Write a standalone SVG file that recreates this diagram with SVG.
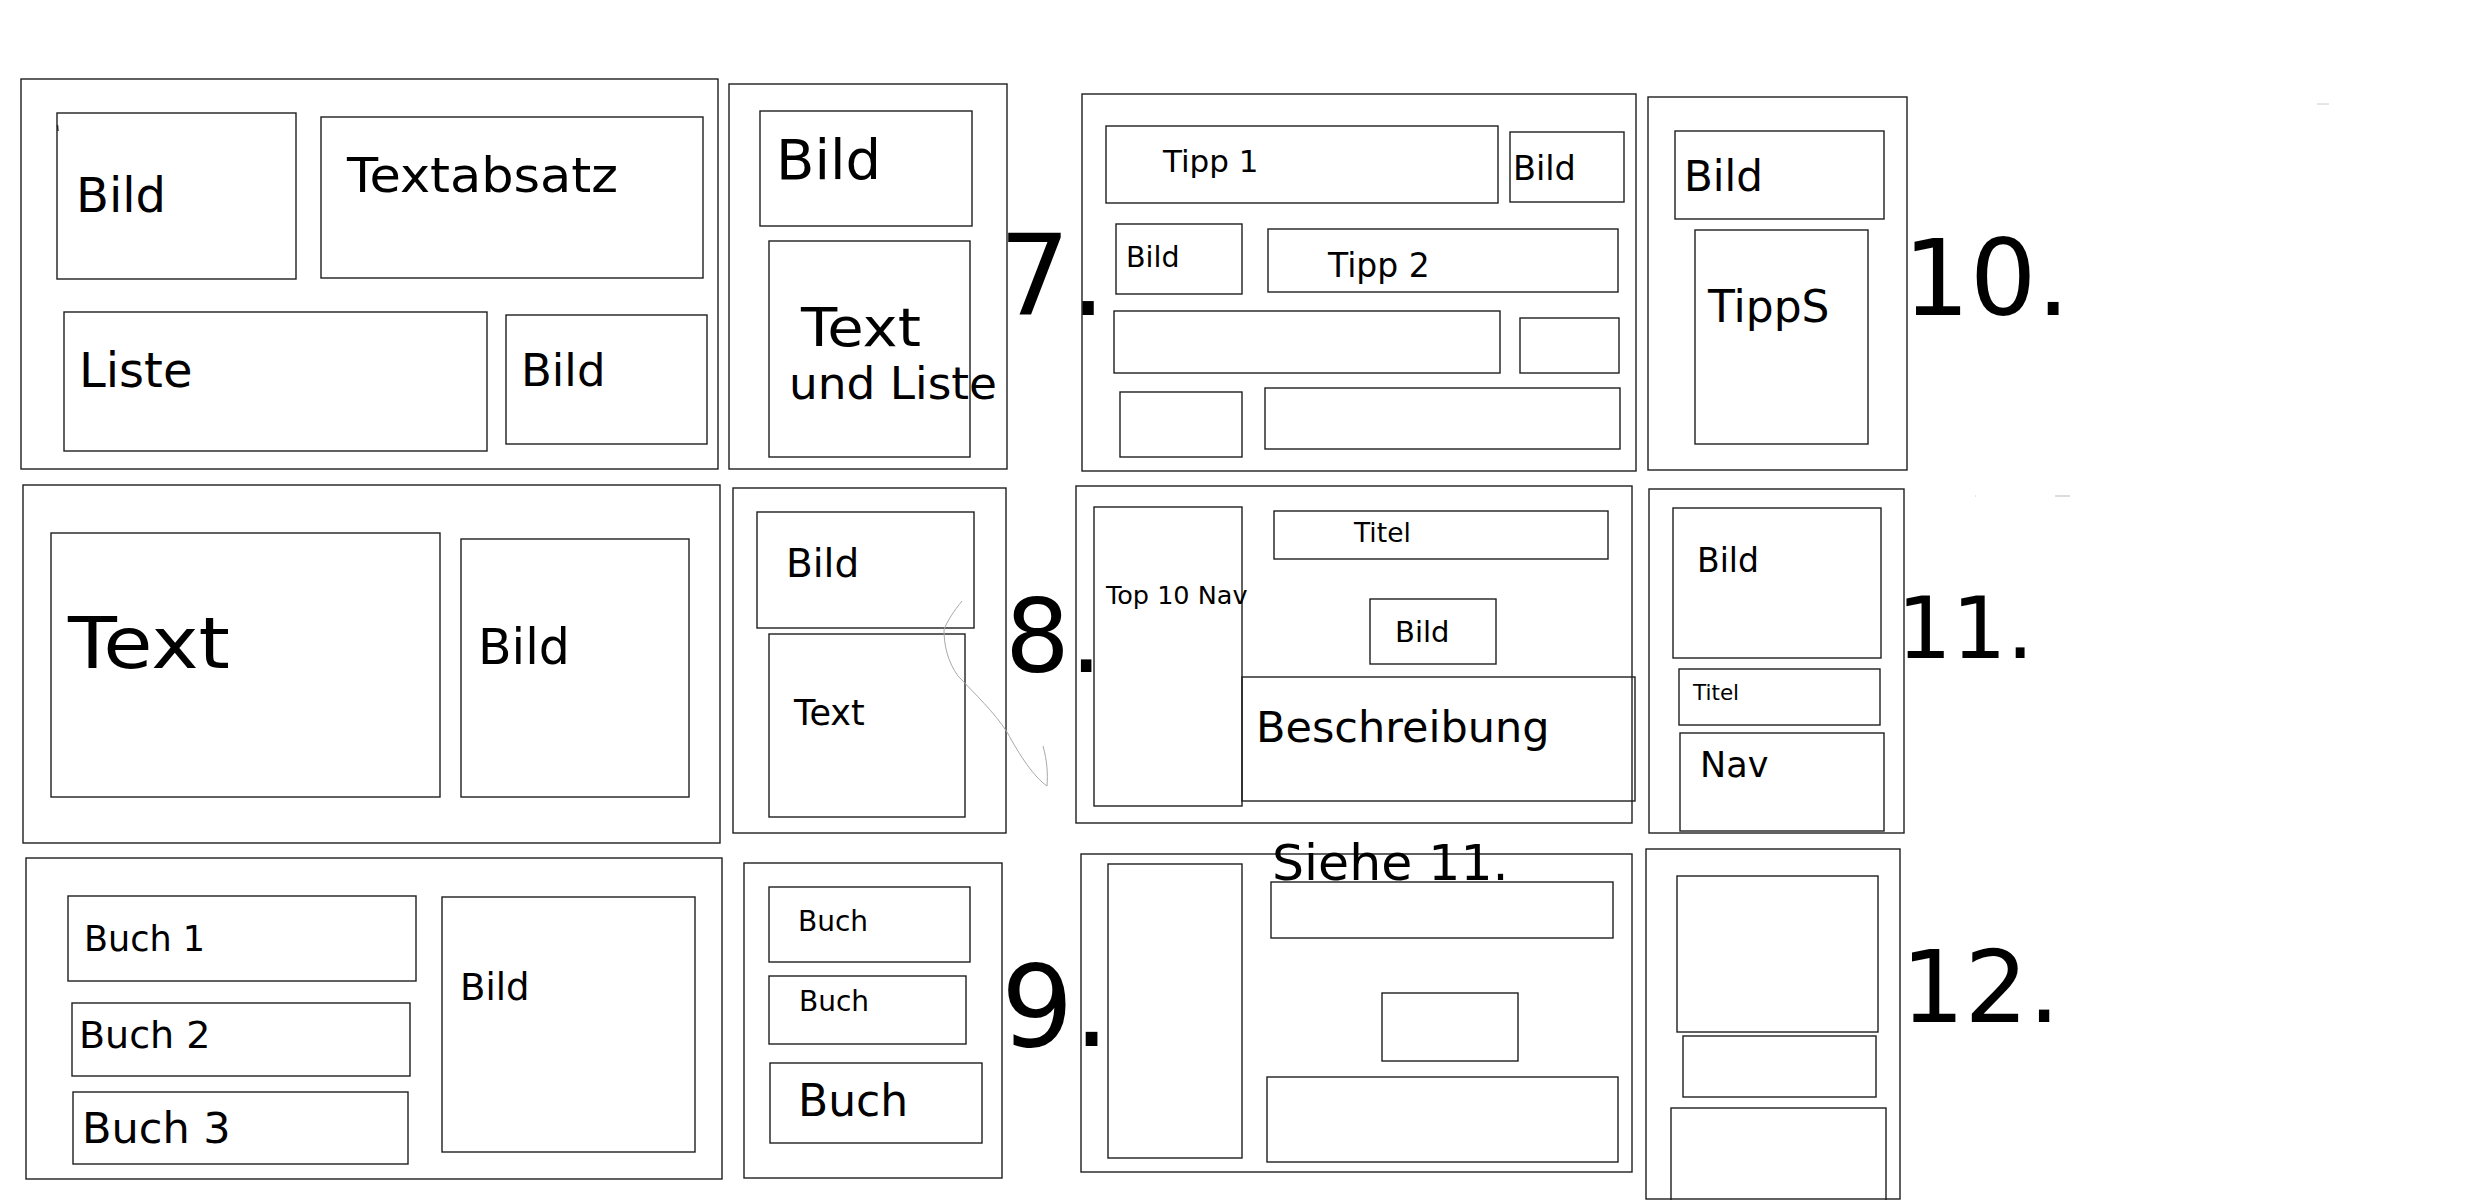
<svg xmlns="http://www.w3.org/2000/svg" width="2484" height="1200" viewBox="0 0 2484 1200">
<style>
  .b { fill: none; stroke: #1e1e1e; stroke-width: 1.4; }
  text { font-family: "DejaVu Sans", "Liberation Sans", sans-serif; fill: #000; }
  .mark { fill: none; stroke: #a8a8a8; stroke-width: 1; }
</style>
<rect x="0" y="0" width="2484" height="1200" fill="#fff"/>

<g id="wf1">
  <rect class="b" x="21" y="79" width="697" height="390"/>
  <rect class="b" x="57" y="113" width="239" height="166"/>
  <line x1="57.5" y1="125" x2="58" y2="131" stroke="#222" stroke-width="1.4"/>
  <text x="76" y="212" font-size="48">Bild</text>
  <rect class="b" x="321" y="117" width="382" height="161"/>
  <text x="347" y="192" font-size="48" textLength="271" lengthAdjust="spacingAndGlyphs">Textabsatz</text>
  <rect class="b" x="64" y="312" width="423" height="139"/>
  <text x="79" y="387" font-size="48">Liste</text>
  <rect class="b" x="506" y="315" width="201" height="129"/>
  <text x="521" y="386" font-size="45">Bild</text>
</g>

<g id="wf7">
  <rect class="b" x="729" y="84" width="278" height="385"/>
  <rect class="b" x="760" y="111" width="212" height="115"/>
  <text x="776" y="179" font-size="56">Bild</text>
  <rect class="b" x="769" y="241" width="201" height="216"/>
  <text x="801" y="346" font-size="53" textLength="120" lengthAdjust="spacingAndGlyphs">Text</text>
  <text x="789" y="399" font-size="44" textLength="208" lengthAdjust="spacingAndGlyphs">und Liste</text>
  <text x="999" y="315" font-size="112">7.</text>
</g>

<g id="wf7b">
  <rect class="b" x="1082" y="94" width="554" height="377"/>
  <rect class="b" x="1106" y="126" width="392" height="77"/>
  <text x="1163" y="172" font-size="31">Tipp 1</text>
  <rect class="b" x="1510" y="132" width="114" height="70"/>
  <text x="1513" y="180" font-size="33.5">Bild</text>
  <rect class="b" x="1116" y="224" width="126" height="70"/>
  <text x="1126" y="267" font-size="28.5">Bild</text>
  <rect class="b" x="1268" y="229" width="350" height="63"/>
  <text x="1328" y="277" font-size="33">Tipp 2</text>
  <rect class="b" x="1114" y="311" width="386" height="62"/>
  <rect class="b" x="1520" y="318" width="99" height="55"/>
  <rect class="b" x="1120" y="392" width="122" height="65"/>
  <rect class="b" x="1265" y="388" width="355" height="61"/>
</g>

<g id="wf10">
  <rect class="b" x="1648" y="97" width="259" height="373"/>
  <rect class="b" x="1675" y="131" width="209" height="88"/>
  <text x="1684" y="191" font-size="42">Bild</text>
  <rect class="b" x="1695" y="230" width="173" height="214"/>
  <text x="1708" y="322" font-size="44">TippS</text>
  <text x="1903" y="315" font-size="105">10.</text>
</g>

<g id="wf4">
  <rect class="b" x="23" y="485" width="697" height="358"/>
  <rect class="b" x="51" y="533" width="389" height="264"/>
  <text x="68" y="668" font-size="72" textLength="162" lengthAdjust="spacingAndGlyphs">Text</text>
  <rect class="b" x="461" y="539" width="228" height="258"/>
  <text x="478" y="664" font-size="49">Bild</text>
</g>

<g id="wf8">
  <rect class="b" x="733" y="488" width="273" height="345"/>
  <rect class="b" x="757" y="512" width="217" height="116"/>
  <text x="786" y="577" font-size="39">Bild</text>
  <rect class="b" x="769" y="634" width="196" height="183"/>
  <text x="794" y="725" font-size="35">Text</text>
  <text x="1005" y="672" font-size="102">8.</text>
</g>

<g id="wf8b">
  <rect class="b" x="1076" y="486" width="556" height="337"/>
  <rect class="b" x="1094" y="507" width="148" height="299"/>
  <text x="1106" y="604" font-size="25.5">Top 10 Nav</text>
  <rect class="b" x="1274" y="511" width="334" height="48"/>
  <text x="1354" y="542" font-size="26.5">Titel</text>
  <rect class="b" x="1370" y="599" width="126" height="65"/>
  <text x="1395" y="642" font-size="29">Bild</text>
  <rect class="b" x="1242" y="677" width="393" height="124"/>
  <text x="1256" y="742" font-size="43">Beschreibung</text>
</g>

<g id="wf11">
  <rect class="b" x="1649" y="489" width="255" height="344"/>
  <rect class="b" x="1673" y="508" width="208" height="150"/>
  <text x="1697" y="572" font-size="33">Bild</text>
  <rect class="b" x="1679" y="669" width="201" height="56"/>
  <text x="1693" y="700" font-size="21.5">Titel</text>
  <rect class="b" x="1680" y="733" width="204" height="98"/>
  <text x="1700" y="777" font-size="35">Nav</text>
  <text x="1897" y="658" font-size="86">11.</text>
</g>

<g id="wf6">
  <rect class="b" x="26" y="858" width="696" height="321"/>
  <rect class="b" x="68" y="896" width="348" height="85"/>
  <text x="84" y="951" font-size="35">Buch 1</text>
  <rect class="b" x="72" y="1003" width="338" height="73"/>
  <text x="79" y="1048" font-size="38">Buch 2</text>
  <rect class="b" x="73" y="1092" width="335" height="72"/>
  <text x="82" y="1143" font-size="43">Buch 3</text>
  <rect class="b" x="442" y="897" width="253" height="255"/>
  <text x="460" y="1000" font-size="37">Bild</text>
</g>

<g id="wf9">
  <rect class="b" x="744" y="863" width="258" height="315"/>
  <rect class="b" x="769" y="887" width="201" height="75"/>
  <text x="798" y="931" font-size="28">Buch</text>
  <rect class="b" x="769" y="976" width="197" height="68"/>
  <text x="799" y="1011" font-size="28">Buch</text>
  <rect class="b" x="770" y="1063" width="212" height="80"/>
  <text x="798" y="1116" font-size="44">Buch</text>
  <text x="1001" y="1046" font-size="114">9.</text>
</g>

<g id="wf9b">
  <rect class="b" x="1081" y="854" width="551" height="318"/>
  <rect class="b" x="1108" y="864" width="134" height="294"/>
  <rect class="b" x="1271" y="882" width="342" height="56"/>
  <rect class="b" x="1382" y="993" width="136" height="68"/>
  <rect class="b" x="1267" y="1077" width="351" height="85"/>
  <text x="1272" y="880" font-size="50.5">Siehe 11.</text>
</g>

<g id="wf12">
  <rect class="b" x="1646" y="849" width="254" height="350"/>
  <rect class="b" x="1677" y="876" width="201" height="156"/>
  <rect class="b" x="1683" y="1036" width="193" height="61"/>
  <rect class="b" x="1671" y="1108" width="215" height="110"/>
  <text x="1901" y="1022" font-size="100">12.</text>
</g>

<g id="connectors">
  <path class="mark" d="M962,601 C954,611 947,621 944,630 C944,646 948,662 958,676 C975,694 994,712 1007,732 C1020,756 1034,777 1047,786 C1048,774 1047,760 1043,746"/>
  <line x1="1975" y1="496" x2="1976" y2="496" stroke="#ccc" stroke-width="1"/>
  <line x1="2055" y1="496" x2="2070" y2="496" stroke="#bbb" stroke-width="1"/>
  <line x1="2317" y1="104" x2="2329" y2="104" stroke="#ccc" stroke-width="1"/>
</g>
</svg>
